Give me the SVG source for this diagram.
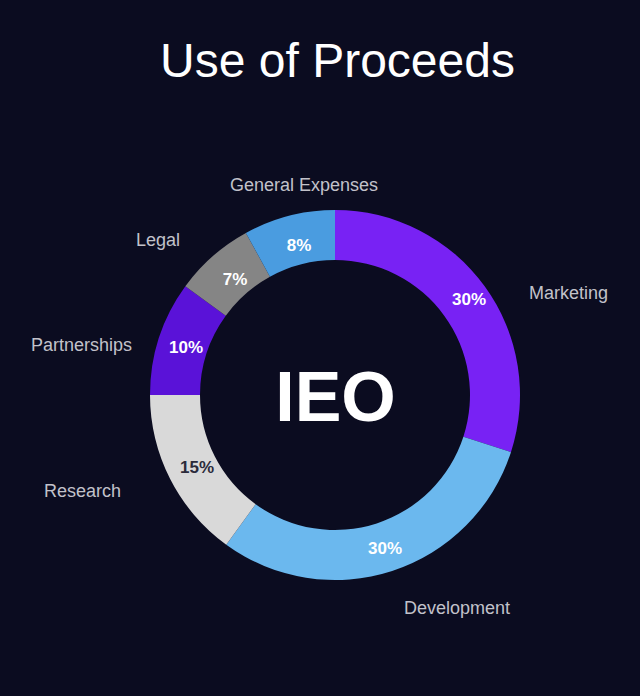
<svg xmlns="http://www.w3.org/2000/svg" width="640" height="696" viewBox="0 0 640 696">
<style>
.lbl{font-family:"Liberation Sans",Arial,sans-serif;font-size:18px;fill:#c2c2ca}
.pct{font-family:"Liberation Sans",Arial,sans-serif;font-size:17px;font-weight:bold;fill:#ffffff;text-anchor:middle}
.title{font-family:"Liberation Sans",Arial,sans-serif;font-size:48px;fill:#ffffff;text-anchor:middle}
.center{font-family:"Liberation Sans",Arial,sans-serif;font-size:70px;font-weight:bold;fill:#ffffff;text-anchor:middle}
</style>
<rect x="0" y="0" width="640" height="696" fill="#0b0c20"/>
<text class="title" x="337.5" y="77">Use of Proceeds</text>
<g id="marketing">
<path d="M335,210 A185,185 0 0 1 510.95,452.17 L463.39,436.72 A135,135 0 0 0 335,260 Z" fill="#7822f4"/>
<text class="pct" x="469" y="305">30%</text>
<text class="lbl" x="529" y="299">Marketing</text>
</g>
<g id="development">
<path d="M510.95,452.17 A185,185 0 0 1 226.26,544.67 L255.65,504.22 A135,135 0 0 0 463.39,436.72 Z" fill="#6bb8ee"/>
<text class="pct" x="385" y="554">30%</text>
<text class="lbl" x="404" y="614">Development</text>
</g>
<g id="research">
<path d="M226.26,544.67 A185,185 0 0 1 150,395 L200,395 A135,135 0 0 0 255.65,504.22 Z" fill="#d9d9d9"/>
<text class="pct" x="197" y="473" style="fill:#2b2b3b">15%</text>
<text class="lbl" x="121" y="497" text-anchor="end">Research</text>
</g>
<g id="partnerships">
<path d="M150,395 A185,185 0 0 1 185.33,286.26 L225.78,315.65 A135,135 0 0 0 200,395 Z" fill="#5a12d8"/>
<text class="pct" x="186" y="353">10%</text>
<text class="lbl" x="132" y="351" text-anchor="end">Partnerships</text>
</g>
<g id="legal">
<path d="M185.33,286.26 A185,185 0 0 1 245.88,232.88 L269.96,276.70 A135,135 0 0 0 225.78,315.65 Z" fill="#858585"/>
<text class="pct" x="235" y="285">7%</text>
<text class="lbl" x="180" y="246" text-anchor="end">Legal</text>
</g>
<g id="general-expenses">
<path d="M245.88,232.88 A185,185 0 0 1 335,210 L335,260 A135,135 0 0 0 269.96,276.70 Z" fill="#4a9ce0"/>
<text class="pct" x="299" y="251">8%</text>
<text class="lbl" x="304" y="191" text-anchor="middle">General Expenses</text>
</g>
<g id="center">
<text class="center" x="335.5" y="421">IEO</text>
</g>
<g id="connectors"></g>
</svg>
